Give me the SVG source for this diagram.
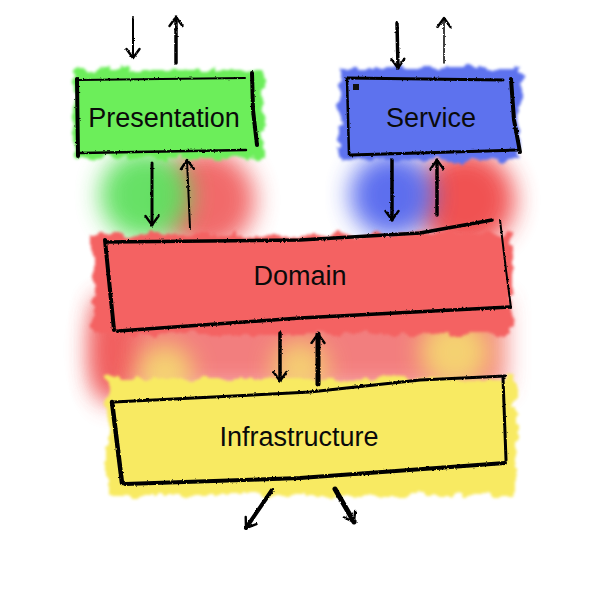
<svg xmlns="http://www.w3.org/2000/svg" width="600" height="600" viewBox="0 0 600 600">
<defs>
<filter id="rough" x="-10%" y="-20%" width="120%" height="140%">
<feTurbulence type="fractalNoise" baseFrequency="0.07" numOctaves="3" seed="3" result="n"/>
<feDisplacementMap in="SourceGraphic" in2="n" scale="14" xChannelSelector="R" yChannelSelector="G" result="d"/>
<feGaussianBlur in="d" stdDeviation="1.5"/>
</filter>
<filter id="pen" filterUnits="userSpaceOnUse" x="0" y="0" width="600" height="600">
<feTurbulence type="fractalNoise" baseFrequency="0.5" numOctaves="2" seed="7" result="n"/>
<feDisplacementMap in="SourceGraphic" in2="n" scale="2.5" xChannelSelector="R" yChannelSelector="G"/>
</filter>
<filter id="blur" filterUnits="userSpaceOnUse" x="0" y="0" width="600" height="600">
<feGaussianBlur stdDeviation="12"/>
</filter>
<marker id="head" viewBox="0 0 16 16" refX="14" refY="8" markerWidth="16" markerHeight="16" markerUnits="userSpaceOnUse" orient="auto">
<path d="M5,1.5 L14,8 L5,14.5" fill="none" stroke="#000" stroke-width="2.4" stroke-linecap="round" stroke-linejoin="round"/>
</marker>
<style>
.lbl{font-family:"Liberation Sans",Arial,sans-serif;font-size:27px;fill:#0a0a0a;text-anchor:middle}
.edge{fill:none;stroke:#000;stroke-linecap:round;stroke-linejoin:round;filter:url(#pen)}
.arr{fill:none;stroke:#000;stroke-linecap:round;filter:url(#pen)}
.wash{filter:url(#blur)}
</style>
</defs>
<rect width="600" height="600" fill="#fff"/>
<g id="washes">
<circle class="wash" cx="205" cy="200" r="50" fill="#f05a5a" opacity="0.9"/>
<circle class="wash" cx="145" cy="195" r="45" fill="#5ee05e" opacity="0.95"/>
<circle class="wash" cx="465" cy="200" r="50" fill="#f04a4a" opacity="0.95"/>
<circle class="wash" cx="392" cy="195" r="42" fill="#5568ee" opacity="0.95"/>
<rect class="wash" x="95" y="300" width="410" height="90" fill="#f05e5e" opacity="0.8"/>
<ellipse class="wash" cx="112" cy="350" rx="22" ry="55" fill="#f05a5a" opacity="0.9"/>
<circle class="wash" cx="165" cy="372" r="28" fill="#f5e070" opacity="0.85"/>
<circle class="wash" cx="300" cy="368" r="28" fill="#f5e070" opacity="0.8"/>
<circle class="wash" cx="455" cy="352" r="35" fill="#f5e070" opacity="0.85"/>
</g>
<g id="presentation">
<rect x="74" y="70" width="190" height="88" fill="#6cee5a" filter="url(#rough)"/>
<path class="edge" d="M78,80 L245,78" stroke-width="2"/>
<path class="edge" d="M80,153 L246,150" stroke-width="2.5"/>
<path class="edge" d="M77,79 L78,156" stroke-width="4"/>
<path class="edge" d="M252,73 L253,110 L257,145" stroke-width="4"/>
<text class="lbl" x="164" y="127">Presentation</text>
</g>
<g id="service">
<rect x="340" y="68" width="180" height="92" fill="#5d72ee" filter="url(#rough)"/>
<path class="edge" d="M347,78 L503,80" stroke-width="3"/>
<path class="edge" d="M350,155 L518,150" stroke-width="3"/>
<path class="edge" d="M347,78 L349,155" stroke-width="2.5"/>
<path class="edge" d="M511,79 L514,120 L520,152" stroke-width="4"/>
<rect x="353" y="84" width="6" height="6" fill="#111"/>
<text class="lbl" x="431" y="127">Service</text>
</g>
<g id="domain">
<rect x="92" y="234" width="420" height="100" fill="#f46262" filter="url(#rough)"/>
<path class="edge" d="M106,242 L300,240 L420,233 L492,220" stroke-width="3.5"/>
<path class="edge" d="M118,331 L300,318 L510,307" stroke-width="3.5"/>
<path class="edge" d="M105,240 L114,330" stroke-width="4"/>
<path class="edge" d="M500,220 L506,270 L511,308" stroke-width="2"/>
<text class="lbl" x="300" y="285">Domain</text>
</g>
<g id="infrastructure">
<rect x="108" y="378" width="408" height="118" fill="#f8ea62" filter="url(#rough)"/>
<path class="edge" d="M114,402 L310,392 L420,380 L505,376" stroke-width="3"/>
<path class="edge" d="M125,484 L300,478 L505,463" stroke-width="4"/>
<path class="edge" d="M112,402 L122,483" stroke-width="4.5"/>
<path class="edge" d="M503,378 L506,460" stroke-width="3"/>
<text class="lbl" x="299" y="446">Infrastructure</text>
</g>
<g id="connectors">
<path class="arr" d="M133,18 L133,58" stroke-width="2" marker-end="url(#head)"/>
<path class="arr" d="M176,63 L176,17" stroke-width="3.5" marker-end="url(#head)"/>
<path class="arr" d="M397,23 L398,68" stroke-width="3.5" marker-end="url(#head)"/>
<path class="arr" d="M444,63 L444,18" stroke-width="1.5" marker-end="url(#head)"/>
<path class="arr" d="M152,163 L152,225" stroke-width="3" marker-end="url(#head)"/>
<path class="arr" d="M190,228 L187,160" stroke-width="2" marker-end="url(#head)"/>
<path class="arr" d="M392,160 L392,220" stroke-width="3.5" marker-end="url(#head)"/>
<path class="arr" d="M437,215 L437,160" stroke-width="3.5" marker-end="url(#head)"/>
<path class="arr" d="M280,333 L280,381" stroke-width="3.5" marker-end="url(#head)"/>
<path class="arr" d="M318,384 L318,334" stroke-width="5" marker-end="url(#head)"/>
<path class="arr" d="M272,490 L246,528" stroke-width="4" marker-end="url(#head)"/>
<path class="arr" d="M335,489 L354,522" stroke-width="5" marker-end="url(#head)"/>
</g>
</svg>
